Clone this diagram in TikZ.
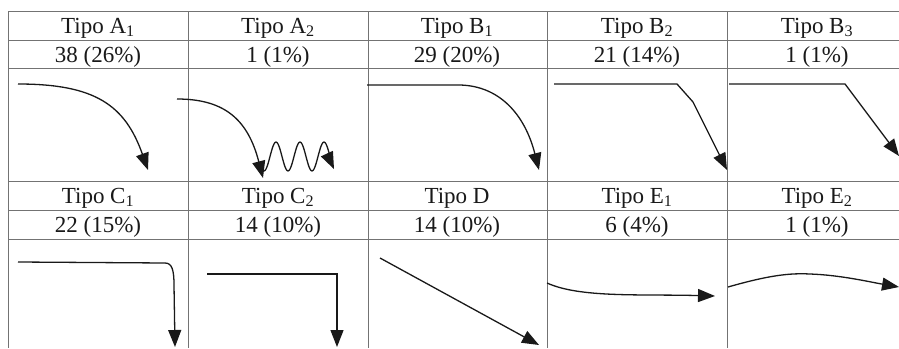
\documentclass[tikz,border=0pt]{standalone}
\usepackage{fontspec}
\setmainfont{Liberation Serif}
\usetikzlibrary{arrows.meta}

\begin{document}
\begin{tikzpicture}[x=1pt, y=-1pt,
    grid/.style={draw=black!55, line width=0.9pt},
    curve/.style={-{Triangle[length=17pt,width=13pt]}, line width=1.3pt, black!90},
    lbl/.style={anchor=base, text=black!90, font=\fontsize{23}{27}\selectfont}]
    \useasboundingbox (0,0) rectangle (899,348);
    % table lines
    \foreach \y in {11,40,68,181,210,239}
        \draw[grid] (8,\y) -- (899,\y);
    \foreach \x in {8,188,368,547,727}
        \draw[grid] (\x,11) -- (\x,348);
    % upper half
    \node[lbl] (tA1) at (98,33) {Tipo A\textsubscript{1}};
    \node[lbl] (tA2) at (278,33) {Tipo A\textsubscript{2}};
    \node[lbl] (tB1) at (457,33) {Tipo B\textsubscript{1}};
    \node[lbl] (tB2) at (637,33) {Tipo B\textsubscript{2}};
    \node[lbl] (tB3) at (817,33) {Tipo B\textsubscript{3}};
    \node[lbl] (nA1) at (98,62) {38 (26\%)};
    \node[lbl] (nA2) at (278,62) {1 (1\%)};
    \node[lbl] (nB1) at (457,62) {29 (20\%)};
    \node[lbl] (nB2) at (637,62) {21 (14\%)};
    \node[lbl] (nB3) at (817,62) {1 (1\%)};
    % lower half
    \node[lbl] (tC1) at (98,203) {Tipo C\textsubscript{1}};
    \node[lbl] (tC2) at (278,203) {Tipo C\textsubscript{2}};
    \node[lbl] (tD) at (457,203) {Tipo D};
    \node[lbl] (tE1) at (637,203) {Tipo E\textsubscript{1}};
    \node[lbl] (tE2) at (817,203) {Tipo E\textsubscript{2}};
    \node[lbl] (nC1) at (98,232) {22 (15\%)};
    \node[lbl] (nC2) at (278,232) {14 (10\%)};
    \node[lbl] (nD) at (457,232) {14 (10\%)};
    \node[lbl] (nE1) at (637,232) {6 (4\%)};
    \node[lbl] (nE2) at (817,232) {1 (1\%)};
    % curves
    \draw[curve] (18,84) .. controls (95,84) and (125,105) .. (148,170);
    \draw[curve] (177,99) .. controls (225,99) and (248,120) .. (263,178);
    \draw[curve] plot[domain=264:334, samples=71, smooth] (\x, {156.5 - 14.5*cos(15*(\x-276))});
    \draw[curve] (367,85) -- (460,85) .. controls (500,86) and (525,115) .. (539,170);
    \draw[curve] (554,84) -- (677,84) -- (693,102) -- (727,170);
    \draw[curve] (729,84) -- (845,84) -- (899,156);
    \draw[curve] (18,262) -- (165,263) .. controls (172,263) and (174,270) .. (174,285) -- (175,347);
    \draw[curve] (207,274) -- (337,274) -- (337,347);
    \draw[curve] (380,258) -- (539,345);
    \draw[curve] (547,283) .. controls (580,298) and (640,294) .. (715,296);
    \draw[curve] (728,287) .. controls (770,275) and (790,273) .. (810,274) .. controls (840,275) and (870,282) .. (899,287);
\end{tikzpicture}
\end{document}
